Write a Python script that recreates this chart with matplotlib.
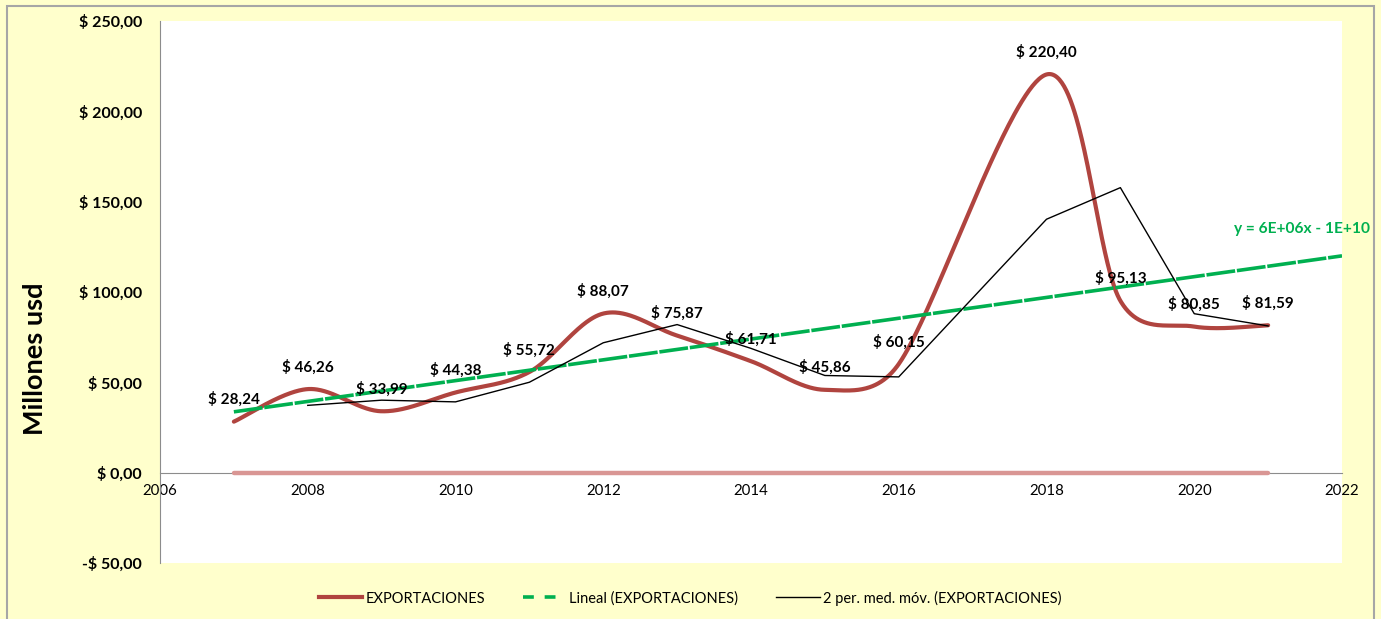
import numpy as np
import matplotlib
matplotlib.use("Agg")
import matplotlib.pyplot as plt
from matplotlib.lines import Line2D
from matplotlib.patches import Rectangle

years = [2007, 2008, 2009, 2010, 2011, 2012, 2013, 2014, 2015, 2016, 2018, 2019, 2020, 2021]
exports = [28.24, 46.26, 33.99, 44.38, 55.72, 88.07, 75.87, 61.71, 45.86, 60.15, 220.40, 95.13, 80.85, 81.59]
zero_series = [0.0] * len(years)
yticks = [-50, 0, 50, 100, 150, 200, 250]
xticks = [2006, 2008, 2010, 2012, 2014, 2016, 2018, 2020, 2022]
equation = "y = 6E+06x - 1E+10"

FONT = ["Lato", "DejaVu Sans"]
plt.rcParams['font.family'] = FONT

W, H = 1381, 619
fig = plt.figure(figsize=(W / 100, H / 100), dpi=100)
fig.patch.set_facecolor('#FFFFCC')
fig.patches.append(Rectangle((7 / W, -0.01), (1374 - 7) / W, (H - 6) / H + 0.01,
                             transform=fig.transFigure, fill=False,
                             edgecolor='#A6A6A6', linewidth=1.5))

ax = fig.add_axes([160 / W, 1 - 563 / H, (1342 - 160) / W, (563 - 21) / H])
ax.set_facecolor('white')
ax.set_xlim(2006, 2022)
ax.set_ylim(-50, 250)


def excel_smooth(xs, ys, n=80):
    """Bezier smoothing similar to spreadsheet 'smoothed line', computed in display space."""
    P = ax.transData.transform(np.column_stack([xs, ys]).astype(float))
    m = len(P)
    out = []
    for i in range(m - 1):
        p0 = P[i - 1] if i > 0 else P[i]
        p1, p2 = P[i], P[i + 1]
        p3 = P[i + 2] if i + 2 < m else P[i + 1]
        d12 = np.linalg.norm(p2 - p1)
        t1 = p2 - p0
        t2 = p3 - p1
        n1 = np.linalg.norm(t1)
        n2 = np.linalg.norm(t2)
        f1 = min(1 / 6, d12 / (2 * n1)) if n1 > 0 else 0
        f2 = min(1 / 6, d12 / (2 * n2)) if n2 > 0 else 0
        c1 = p1 + t1 * f1
        c2 = p2 - t2 * f2
        t = np.linspace(0, 1, n)[:, None]
        seg = ((1 - t) ** 3) * p1 + 3 * ((1 - t) ** 2) * t * c1 + 3 * (1 - t) * t ** 2 * c2 + t ** 3 * p2
        out.append(seg if i == 0 else seg[1:])
    out = ax.transData.inverted().transform(np.vstack(out))
    return out[:, 0], out[:, 1]


# zero series
ax.plot(years, zero_series, color='#D99694', lw=3.2, solid_capstyle='round', zorder=3)

# exports smoothed
sx, sy = excel_smooth(years, exports)
ax.plot(sx, sy, color='#B0443F', lw=3.0, solid_capstyle='round', zorder=4)

# linear trend (forecast forward 1 period)
coef = np.polyfit(years, exports, 1)
tx = np.array([years[0], 2022])
ax.plot(tx, np.polyval(coef, tx), color='#00B050', lw=2.6, linestyle=(0, (8, 0.5)), zorder=5)

# 2-period moving average
ma_x = years[1:]
ma_y = [(exports[i] + exports[i - 1]) / 2 for i in range(1, len(exports))]
ax.plot(ma_x, ma_y, color='black', lw=1.0, zorder=6)

# data labels
for x, v in zip(years, exports):
    lbl = "$ " + f"{v:.2f}".replace('.', ',')
    ax.annotate(lbl, (x, v), xytext=(0, 16), textcoords='offset points',
                ha='center', va='center', fontsize=11, fontweight='bold', zorder=8)

# axes styling
for s in ['top', 'right']:
    ax.spines[s].set_visible(False)
ax.spines['left'].set_color('#8C8C8C')
ax.spines['bottom'].set_position(('data', 0))
ax.spines['bottom'].set_color('#8C8C8C')
ax.set_yticks(yticks)
ax.set_yticklabels([("-$ " if t < 0 else "$ ") + f"{abs(t):.2f}".replace('.', ',') for t in yticks],
                   fontweight='bold', fontsize=11.5)
ax.set_xticks(xticks)
ax.set_xticklabels([str(t) for t in xticks], fontsize=10.8)
ax.tick_params(axis='both', length=0)
ax.tick_params(axis='y', pad=13)
ax.tick_params(axis='x', pad=8)

fig.text(35 / W, 1 - 359 / H, "Millones usd", rotation=90, ha='center', va='center',
         fontsize=19.5, fontweight='bold')

fig.text(1370 / W, 1 - 229 / H, equation, ha='right', va='center', color='#00B050',
         fontsize=11.2, fontweight='bold')

handles = [Line2D([], [], color='#B0443F', lw=3.0),
           Line2D([], [], color='#00B050', lw=2.6, linestyle=(0, (3, 3))),
           Line2D([], [], color='black', lw=1.0)]
labels = ["EXPORTACIONES", "Lineal (EXPORTACIONES)", "2 per. med. móv. (EXPORTACIONES)"]
fig.legend(handles, labels, loc='center', bbox_to_anchor=(690 / W, 1 - 598 / H), ncol=3,
           frameon=False, fontsize=10.5, handlelength=3.0, columnspacing=2.6, handletextpad=0.2)

fig.savefig('out.png', dpi=100, facecolor=fig.get_facecolor())
